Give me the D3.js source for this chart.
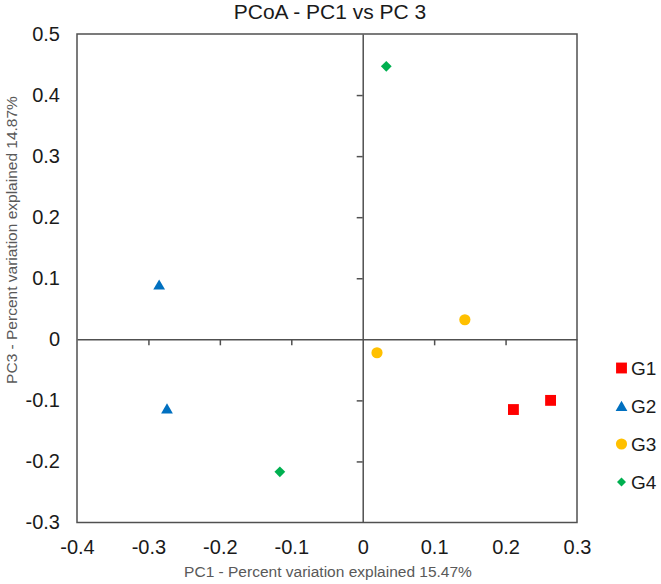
<!DOCTYPE html>
<html>
<head>
<meta charset="utf-8">
<script src="https://cdn.jsdelivr.net/npm/d3@7"></script>
<style>
  html, body { margin: 0; padding: 0; background: #fff; }
  svg { display: block; font-family: "Liberation Sans", Arial, sans-serif; }
</style>
</head>
<body>
<svg id="chart" width="661" height="584"></svg>
<script>
// ---- data ----
const groups = ["G1", "G2", "G3", "G4"];
const colors = ["#FF0000", "#0070C0", "#FFC000", "#00B050"];
const g1X = [0.211, 0.263];
const g1Y = [-0.115, -0.100];
const g2X = [-0.285, -0.274];
const g2Y = [0.087, -0.116];
const g3X = [0.143, 0.020];
const g3Y = [0.032, -0.022];
const g4X = [0.033, -0.116];
const g4Y = [0.447, -0.217];
const xTicks = [-0.4, -0.3, -0.2, -0.1, 0, 0.1, 0.2, 0.3];
const yTicks = [0.5, 0.4, 0.3, 0.2, 0.1, 0, -0.1, -0.2, -0.3];
const titleText = "PCoA - PC1 vs PC 3";
const xTitle = "PC1 - Percent variation explained 15.47%";
const yTitle = "PC3 - Percent variation explained 14.87%";

const seriesX = [g1X, g2X, g3X, g4X];
const seriesY = [g1Y, g2Y, g3Y, g4Y];

// ---- layout ----
const svg = d3.select("#chart");
const L = 77, R = 577, T = 34, B = 522.5;
const x = d3.scaleLinear().domain([-0.4, 0.3]).range([L, R]);
const y = d3.scaleLinear().domain([-0.3, 0.5]).range([B, T]);
const fmt = d => (Math.abs(d) < 1e-9 ? "0" : String(+d.toFixed(1)));
const lineColor = "#505050";

// symbols
const diamondType = {
  draw(ctx, size) {
    const r = Math.sqrt(size) / 2 * Math.SQRT2;
    ctx.moveTo(0, -r); ctx.lineTo(r, 0); ctx.lineTo(0, r); ctx.lineTo(-r, 0); ctx.closePath();
  }
};
const symTypes = [d3.symbolSquare, d3.symbolTriangle, d3.symbolCircle, diamondType];
const symSizes = [118, 60, 98, 58];
const legSizes = [118, 60, 98, 40];

// plot box
svg.append("rect")
  .attr("x", L).attr("y", T).attr("width", R - L).attr("height", B - T)
  .attr("fill", "none").attr("stroke", lineColor).attr("stroke-width", 1.5);

// tick labels on box edges
const xAxisLabels = svg.append("g")
  .attr("transform", `translate(0,${B})`)
  .call(d3.axisBottom(x).tickValues(xTicks).tickFormat(fmt).tickSize(0).tickPadding(17));
const yAxisLabels = svg.append("g")
  .attr("transform", `translate(${L},0)`)
  .call(d3.axisLeft(y).tickValues(yTicks).tickFormat(fmt).tickSize(0).tickPadding(17));
[xAxisLabels, yAxisLabels].forEach(g => {
  g.select(".domain").remove();
  g.selectAll("text").attr("font-size", 20).attr("fill", "#1a1a1a")
    .attr("font-family", "Liberation Sans, Arial, sans-serif");
});

// zero axes with ticks
const xZero = svg.append("g")
  .attr("transform", `translate(0,${y(0)})`)
  .call(d3.axisBottom(x).tickValues(xTicks.filter(v => v > -0.4 && v < 0.3 && v !== 0)).tickFormat("").tickSize(6).tickSizeOuter(0));
const yZero = svg.append("g")
  .attr("transform", `translate(${x(0)},0)`)
  .call(d3.axisLeft(y).tickValues(yTicks.filter(v => v < 0.5 && v > -0.3 && v !== 0)).tickFormat("").tickSize(6).tickSizeOuter(0));
[xZero, yZero].forEach(g => {
  g.selectAll("path, line").attr("stroke", lineColor).attr("stroke-width", 1.5);
});

// points
groups.forEach((gname, i) => {
  const pts = seriesX[i].map((vx, k) => [vx, seriesY[i][k]]);
  svg.append("g").selectAll("path")
    .data(pts)
    .join("path")
    .attr("d", d3.symbol().type(symTypes[i]).size(symSizes[i]))
    .attr("transform", d => `translate(${x(d[0])},${y(d[1])})`)
    .attr("fill", colors[i]);
});

// title
svg.append("text")
  .attr("x", (L + R) / 2 + 3).attr("y", 19)
  .attr("text-anchor", "middle")
  .attr("font-size", 21).attr("fill", "#1a1a1a")
  .text(titleText);

// axis titles
svg.append("text")
  .attr("x", (L + R) / 2 + 1).attr("y", 577)
  .attr("text-anchor", "middle")
  .attr("font-size", 15.5).attr("fill", "#595959")
  .text(xTitle);
svg.append("text")
  .attr("transform", "translate(17,240) rotate(-90)")
  .attr("text-anchor", "middle")
  .attr("font-size", 15.5).attr("fill", "#595959")
  .text(yTitle);

// legend
const legY = d3.scalePoint().domain(groups).range([368, 482]);
const leg = svg.append("g");
groups.forEach((gname, i) => {
  const cy = legY(gname);
  leg.append("path")
    .attr("d", d3.symbol().type(symTypes[i]).size(legSizes[i]))
    .attr("transform", `translate(621.5,${i === 1 ? cy + 1.5 : cy})`)
    .attr("fill", colors[i]);
  leg.append("text")
    .attr("x", 631).attr("y", cy).attr("dy", "0.36em")
    .attr("font-size", 19).attr("fill", "#1a1a1a")
    .text(gname);
});
</script>
</body>
</html>
